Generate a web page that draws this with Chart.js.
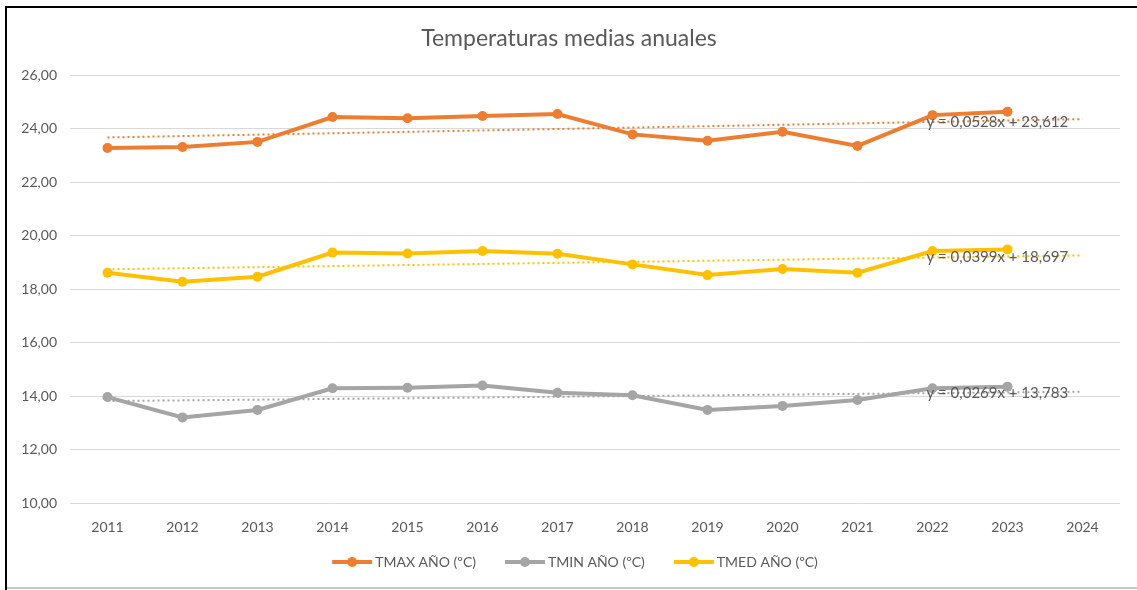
<!DOCTYPE html>
<html lang="es">
<head>
<meta charset="utf-8">
<title>Temperaturas medias anuales</title>
<script src="https://cdn.jsdelivr.net/npm/chart.js@4"></script>
<style>
  html, body { margin: 0; padding: 0; background: #fff; }
  #wrap { width: 1137px; height: 590px; position: relative; }
</style>
</head>
<body>
<div id="wrap"><canvas id="grafico"></canvas></div>
<script>
// años del eje x (2024 sin datos, solo para la tendencia)
const anios = ["2011", "2012", "2013", "2014", "2015", "2016", "2017",
  "2018", "2019", "2020", "2021", "2022", "2023", "2024"];

// medias anuales (ºC)
const tmax = [23.27, 23.31, 23.50, 24.43, 24.38, 24.47, 24.54, 23.78, 23.54, 23.88, 23.35, 24.50, 24.63];
const tmin = [13.96, 13.20, 13.48, 14.29, 14.31, 14.39, 14.12, 14.03, 13.48, 13.63, 13.85, 14.29, 14.35];
const tmed = [18.61, 18.27, 18.46, 19.36, 19.33, 19.42, 19.32, 18.92, 18.52, 18.75, 18.61, 19.42, 19.48];

// ecuaciones de las líneas de tendencia (y = a·x + b, x = 1 para 2011)
const pendientes = [0.0528, 0.0269, 0.0399];
const ordenadas = [23.612, 13.783, 18.697];

const titulo = "Temperaturas medias anuales";
const nombres = ["TMAX AÑO (ºC)", "TMIN AÑO (ºC)", "TMED AÑO (ºC)"];
const colores = ["#ED7D31", "#A5A5A5", "#FFC000"];
const series = [tmax, tmin, tmed];

const fuente = "Lato, 'Open Sans', sans-serif";
const gris = "#595959";

// número con coma decimal
const coma = (v, d) => v.toFixed(d).replace(".", ",");

// puntos de la recta de tendencia
function tendencia(i) {
  return anios.map((_, k) => ordenadas[i] + pendientes[i] * (k + 1));
}

const datasets = [];
series.forEach((s, i) => {
  datasets.push({
    label: nombres[i],
    data: s,
    borderColor: colores[i],
    backgroundColor: colores[i],
    borderWidth: 4,
    pointRadius: 5,
    pointBorderWidth: 0,
    pointBackgroundColor: colores[i],
    tension: 0,
    order: 1,
  });
});
series.forEach((s, i) => {
  datasets.push({
    label: "tendencia " + nombres[i],
    data: tendencia(i),
    borderColor: colores[i],
    borderWidth: 2,
    borderDash: [2, 3],
    pointRadius: 0,
    tension: 0,
    order: 2,
  });
});

// fondo blanco, título y marco del gráfico
const marco = {
  id: "marco",
  beforeDraw(chart) {
    const ctx = chart.ctx;
    ctx.save();
    ctx.fillStyle = "#fff";
    ctx.fillRect(0, 0, chart.width, chart.height);
    ctx.fillStyle = gris;
    ctx.font = "23px " + fuente;
    ctx.textAlign = "center";
    ctx.textBaseline = "middle";
    ctx.fillText(titulo, 569, 39);
    ctx.restore();
  },
  afterDraw(chart) {
    const ctx = chart.ctx;
    ctx.save();
    ctx.fillStyle = "#c8c8c8";
    ctx.fillRect(5, 587, chart.width - 5, 2);
    ctx.fillStyle = "#000";
    ctx.fillRect(5, 6, chart.width - 5, 2);
    ctx.fillRect(5, 6, 2, chart.height - 6);
    ctx.restore();
  },
};

// etiquetas con la ecuación de cada tendencia
const ecuaciones = {
  id: "ecuaciones",
  afterDatasetsDraw(chart) {
    const ctx = chart.ctx;
    const x = chart.scales.x;
    const y = chart.scales.y;
    ctx.save();
    ctx.font = "15px " + fuente;
    ctx.fillStyle = gris;
    ctx.textBaseline = "middle";
    ctx.textAlign = "left";
    pendientes.forEach((a, i) => {
      const b = ordenadas[i];
      const txt = "y = " + coma(a, 4) + "x + " + coma(b, 3);
      ctx.fillText(txt, x.getPixelForValue(11) - 6, y.getPixelForValue(a * 12 + b));
    });
    ctx.restore();
  },
};

// leyenda propia: línea con marcador + texto
const leyenda = {
  id: "leyenda",
  afterDraw(chart) {
    const ctx = chart.ctx;
    const linea = 40, hueco = 3, sep = 29, yLey = 562;
    ctx.save();
    ctx.font = "14px " + fuente;
    ctx.textBaseline = "middle";
    const anchos = nombres.map((n) => linea + hueco + ctx.measureText(n).width);
    const total = anchos.reduce((s, w) => s + w, 0) + sep * (nombres.length - 1);
    let x0 = 575 - total / 2;
    nombres.forEach((n, i) => {
      ctx.strokeStyle = colores[i];
      ctx.lineWidth = 4;
      ctx.beginPath();
      ctx.moveTo(x0, yLey);
      ctx.lineTo(x0 + linea, yLey);
      ctx.stroke();
      ctx.fillStyle = colores[i];
      ctx.beginPath();
      ctx.arc(x0 + linea / 2, yLey, 5, 0, Math.PI * 2);
      ctx.fill();
      ctx.fillStyle = gris;
      ctx.fillText(n, x0 + linea + hueco, yLey);
      x0 += anchos[i] + sep;
    });
    ctx.restore();
  },
};

new Chart(document.getElementById("grafico"), {
  type: "line",
  data: { labels: anios, datasets: datasets },
  options: {
    responsive: true,
    maintainAspectRatio: false,
    animation: false,
    layout: { padding: { left: 10, right: 17, top: 75, bottom: 47 } },
    plugins: {
      legend: { display: false },
      tooltip: { enabled: false },
      title: { display: false },
    },
    scales: {
      x: {
        offset: true,
        grid: { display: false },
        border: { display: false },
        ticks: { color: gris, font: { family: fuente, size: 14 }, padding: 8, maxRotation: 0 },
        afterFit: (s) => { s.height = 40; },
      },
      y: {
        min: 10,
        max: 26,
        grid: { color: "#D9D9D9", lineWidth: 1, drawTicks: false },
        border: { display: false },
        ticks: {
          stepSize: 2,
          color: gris,
          padding: 13,
          font: { family: fuente, size: 14 },
          callback: (v) => coma(v, 2),
        },
        afterFit: (s) => { s.width = 60; },
      },
    },
  },
  plugins: [marco, ecuaciones, leyenda],
});
</script>
</body>
</html>
